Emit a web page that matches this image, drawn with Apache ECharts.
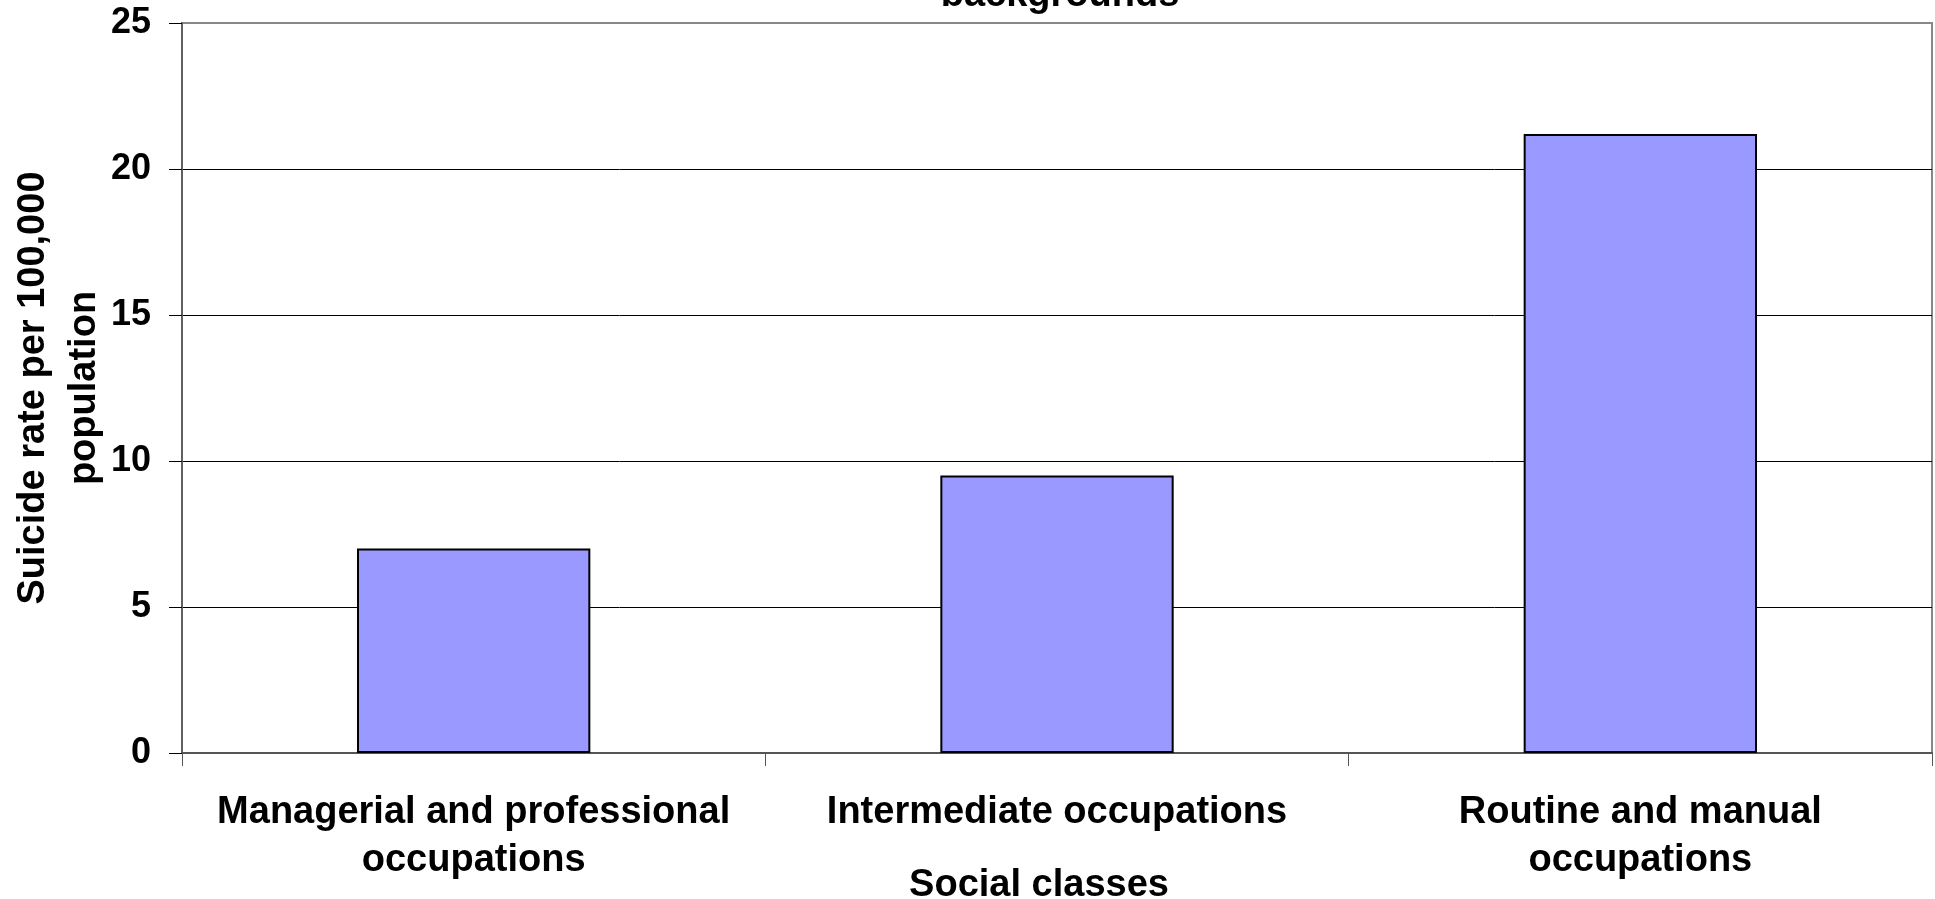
<!DOCTYPE html>
<html>
<head>
<meta charset="utf-8">
<script src="https://cdn.jsdelivr.net/npm/echarts@6/dist/echarts.min.js"></script>
<style>
html,body{margin:0;padding:0;background:#fff;}
#chart{width:1935px;height:899px;}
</style>
</head>
<body>
<div id="chart"></div>
<script>
var categories = ['Managerial and professional\noccupations', 'Intermediate occupations', 'Routine and manual\noccupations'];
var suicideRates = [7.0, 9.5, 21.2];
var yTicks = [0, 5, 10, 15, 20, 25];
var titleText = 'backgrounds';
var xAxisTitle = 'Social classes';
var yAxisTitle = 'Suicide rate per 100,000\npopulation';

var FONT = '"Liberation Sans", Arial, sans-serif';
var chart = echarts.init(document.getElementById('chart'), null, {renderer: 'canvas'});
chart.setOption({
  backgroundColor: '#ffffff',
  animation: false,
  title: {
    text: titleText,
    left: 1055,
    textAlign: 'center',
    top: -28,
    textStyle: {fontFamily: FONT, fontWeight: 'bold', fontSize: 38, color: '#000'}
  },
  grid: {
    left: 182, right: 3, top: 23, bottom: 146,
    outerBoundsMode: 'none',
    containLabel: false,
    show: true, borderColor: '#888888', borderWidth: 2, backgroundColor: 'transparent'
  },
  xAxis: {
    type: 'category',
    data: categories,
    name: xAxisTitle,
    nameLocation: 'middle',
    nameGap: 114,
    nameMoveOverlap: false,
    nameTextStyle: {fontFamily: FONT, fontWeight: 'bold', fontSize: 38, color: '#000', padding: [0, 36, 0, 0]},
    axisLine: {show: true, lineStyle: {color: '#555555', width: 2}},
    axisTick: {show: true, alignWithLabel: false, length: 13, lineStyle: {color: '#555555', width: 1}},
    axisLabel: {margin: 36, fontFamily: FONT, fontWeight: 'bold', fontSize: 38, color: '#000', lineHeight: 48, interval: 0},
    splitLine: {show: false}
  },
  yAxis: {
    type: 'value',
    min: yTicks[0],
    max: yTicks[yTicks.length - 1],
    interval: yTicks[1] - yTicks[0],
    name: yAxisTitle,
    nameLocation: 'middle',
    nameGap: 72,
    nameMoveOverlap: false,
    nameRotate: 90,
    nameTextStyle: {fontFamily: FONT, fontWeight: 'bold', fontSize: 38, color: '#000', lineHeight: 51, align: 'center'},
    axisLine: {show: true, lineStyle: {color: '#606060', width: 2}},
    axisTick: {show: true, length: 13, lineStyle: {color: '#000', width: 1}},
    axisLabel: {margin: 31, fontFamily: FONT, fontWeight: 'bold', fontSize: 36, color: '#000'},
    splitLine: {show: true, showMinLine: false, showMaxLine: false, lineStyle: {color: '#000', width: 1}}
  },
  series: [{
    type: 'bar',
    data: suicideRates,
    barWidth: '40%',
    itemStyle: {color: '#9999FF', borderColor: '#000', borderWidth: 2}
  }]
});
</script>
</body>
</html>
